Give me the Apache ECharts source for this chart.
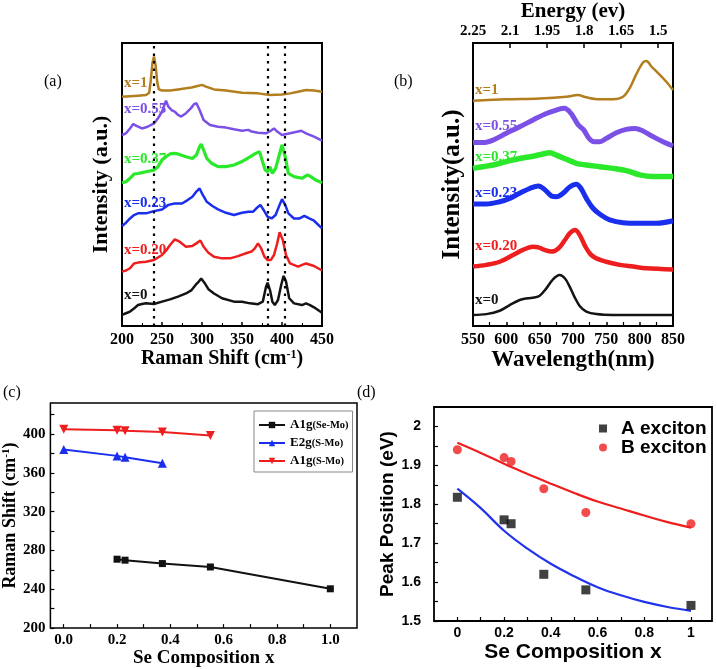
<!DOCTYPE html>
<html><head><meta charset="utf-8">
<script src="https://cdn.jsdelivr.net/npm/echarts@6/dist/echarts.min.js"></script>
<style>html,body{margin:0;padding:0;background:#fff}#c{width:717px;height:669px}</style>
</head><body><div id="c"></div>
<script>
// ---------- (a) Raman spectra (x: Raman shift cm-1, y: intensity a.u.) ----------
const ramanLabels = ['x=0', 'x=0.20', 'x=0.23', 'x=0.37', 'x=0.55', 'x=1'];
const ramanLabelLevels = [10.9, 26.9, 43.5, 59.0, 76.7, 85.9];
const ramanGuides = [240, 382, 403];
const raman_x0 = [[200,3.9],[205,4.5],[210,5.1],[215,6.2],[220,7.4],[225,7.8],[230,8.0],[240,7.8],[250,8.6],[260,9.4],[270,10.4],[280,11.5],[287,12.7],[292,14.5],[296,15.7],[299,16.8],[303,15.3],[308,13.0],[315,11.5],[325,9.8],[340,8.6],[350,8.6],[360,8.0],[370,7.7],[376,8.6],[380,13.9],[382,15.3],[385,12.7],[388,8.6],[391,7.4],[395,9.2],[399,14.5],[402,17.7],[405,15.7],[409,9.8],[415,8.0],[425,7.4],[430,8.0],[435,7.4],[440,6.6],[450,4.7]];
const raman_x020 = [[200,19.2],[205,19.6],[210,20.4],[215,22.1],[220,22.4],[230,22.7],[240,23.3],[250,25.1],[255,26.6],[260,28.6],[266,30.6],[272,29.8],[280,28.0],[288,28.3],[293,29.2],[298,30.2],[302,28.0],[308,25.9],[315,24.5],[325,23.9],[335,23.9],[345,24.7],[355,25.7],[362,26.3],[366,27.4],[370,29.2],[374,27.4],[378,24.5],[382,23.3],[386,23.3],[390,25.1],[394,29.2],[397,33.1],[401,30.4],[405,25.1],[410,22.1],[420,21.0],[430,22.1],[440,21.2],[450,19.6]];
const raman_x023 = [[200,35.3],[205,36.5],[210,38.0],[215,39.2],[220,39.8],[230,39.8],[240,40.6],[250,41.2],[258,42.8],[266,43.3],[275,43.3],[282,44.5],[288,45.7],[293,47.5],[297,48.6],[301,46.3],[306,43.9],[313,42.4],[320,41.2],[330,40.0],[340,39.2],[350,40.0],[358,40.4],[364,40.4],[368,41.6],[373,42.8],[377,41.0],[382,38.6],[387,38.0],[392,39.2],[397,42.8],[400,44.8],[404,42.8],[408,39.8],[415,38.0],[422,38.0],[428,38.9],[434,38.0],[440,37.2],[450,34.5]];
const raman_x037 = [[200,50.6],[205,51.0],[210,52.2],[215,53.7],[220,53.9],[225,54.2],[230,54.5],[240,55.1],[245,56.3],[250,58.7],[255,59.8],[260,60.8],[265,61.0],[270,60.8],[280,59.8],[288,59.2],[293,60.4],[297,63.4],[299,64.3],[302,62.2],[306,59.2],[312,57.5],[320,56.3],[330,56.3],[340,56.9],[350,58.1],[360,59.8],[367,61.0],[372,61.6],[375,58.7],[379,55.1],[382,54.5],[385,56.3],[388,53.9],[392,55.7],[396,59.8],[400,64.0],[404,59.8],[408,53.9],[415,52.8],[425,52.2],[432,53.4],[436,52.8],[442,51.6],[450,50.6]];
const raman_x055 = [[200,67.5],[205,68.1],[210,69.8],[214,71.4],[218,70.7],[225,69.8],[232,70.4],[240,71.6],[245,73.4],[250,75.7],[253,78.1],[255,79.6],[258,77.5],[262,76.3],[266,75.7],[270,74.6],[274,74.0],[280,75.2],[286,76.9],[290,78.4],[293,78.7],[297,76.3],[302,72.8],[310,71.0],[320,70.4],[330,70.1],[340,69.5],[350,69.0],[358,69.3],[362,68.7],[370,68.3],[380,68.1],[386,69.0],[390,69.8],[394,68.7],[400,67.5],[410,68.1],[420,68.7],[424,69.0],[430,68.1],[440,66.9],[450,65.5]];
const raman_x1 = [[200,81.0],[220,81.4],[230,81.6],[234,82.4],[236,86.9],[238,92.8],[240,95.2],[242,92.2],[244,86.3],[246,83.6],[250,83.2],[260,83.2],[270,83.6],[280,84.0],[287,84.3],[292,84.6],[300,85.2],[305,84.6],[315,83.6],[330,83.2],[350,82.4],[370,82.2],[385,81.6],[400,81.8],[410,82.2],[420,82.8],[430,83.4],[440,83.2],[450,82.8]];

// ---------- (b) PL spectra (x: wavelength nm, y: intensity a.u.) ----------
const plLabels = ['x=0', 'x=0.20', 'x=0.23', 'x=0.37', 'x=0.55', 'x=1'];
const plLabelLevels = [9.2, 28.3, 47.0, 59.7, 70.7, 83.4];
const energyTicks = [2.25, 2.1, 1.95, 1.8, 1.65, 1.5];
const pl_x0 = [[550,3.9],[570,4.2],[590,5.4],[605,7.4],[620,9.2],[632,9.8],[642,10.1],[650,10.7],[660,13.3],[670,16.5],[680,18.0],[688,16.8],[695,13.9],[702,10.4],[710,7.1],[720,5.1],[735,4.2],[760,3.9],[850,3.9]];
const pl_x020 = [[550,21.0],[570,21.6],[590,22.7],[610,25.1],[625,26.9],[640,28.0],[648,27.8],[655,27.1],[668,26.3],[678,27.4],[688,30.4],[695,32.7],[703,33.9],[710,32.2],[718,28.3],[726,25.4],[735,23.9],[750,22.7],[770,21.6],[790,21.0],[810,20.4],[850,20.0]];
const pl_x023 = [[550,43.1],[570,43.1],[590,43.9],[605,45.1],[620,46.9],[635,48.6],[648,49.5],[658,48.1],[668,45.9],[675,45.7],[685,46.9],[695,49.1],[705,50.1],[712,48.6],[720,45.1],[730,41.6],[742,39.2],[755,37.5],[775,36.5],[800,36.3],[825,36.3],[850,37.2]];
const pl_x037 = [[550,55.7],[565,56.3],[580,56.9],[600,58.1],[620,59.2],[640,60.0],[655,60.8],[665,61.2],[675,60.4],[690,58.9],[705,57.5],[720,56.9],[740,56.3],[760,55.7],[780,54.9],[800,53.4],[820,52.8],[835,52.8],[850,52.8]];
const pl_x055 = [[550,64.8],[565,64.8],[580,65.7],[600,68.1],[620,70.4],[640,72.8],[660,75.1],[675,76.3],[687,76.9],[697,75.1],[708,71.0],[716,69.3],[724,66.3],[732,65.1],[740,65.1],[750,66.3],[765,68.3],[780,69.5],[793,69.8],[805,68.9],[820,66.9],[835,65.1],[850,63.6]];
const pl_x1 = [[550,79.6],[600,80.1],[650,80.4],[690,81.0],[707,81.6],[720,80.8],[740,80.1],[760,80.1],[775,81.0],[785,84.0],[795,89.0],[805,93.1],[810,93.6],[818,91.6],[828,89.3],[840,86.3],[850,83.4]];

// ---------- (c) Raman peak positions ----------
const compSeMo = [0.2, 0.23, 0.37, 0.55, 1.0];
const a1gSeMo = [271, 270, 266.5, 263, 240.5];
const compE2g = [0, 0.2, 0.23, 0.37];
const e2gSMo = [384, 377.5, 376, 370];
const compA1gS = [0, 0.2, 0.23, 0.37, 0.55];
const a1gSMo = [405, 404, 403.5, 402, 398.5];
const cXTicks = [0, 0.2, 0.4, 0.6, 0.8, 1.0];
const cYTicks = [200, 240, 280, 320, 360, 400];

// ---------- (d) exciton peak positions ----------
const compD = [0, 0.2, 0.23, 0.37, 0.55, 1];
const aExciton = [1.818, 1.76, 1.75, 1.62, 1.58, 1.54];
const bExciton = [1.94, 1.92, 1.91, 1.84, 1.779, 1.75];
const fitX = [0, 0.1, 0.2, 0.3, 0.4, 0.5, 0.6, 0.7, 0.8, 0.9, 1.0];
const fitA = [1.840, 1.790, 1.732, 1.686, 1.647, 1.615, 1.587, 1.566, 1.549, 1.536, 1.526];
const fitB = [1.958, 1.932, 1.904, 1.878, 1.853, 1.829, 1.807, 1.789, 1.771, 1.754, 1.740];
const dXTicks = [0, 0.2, 0.4, 0.6, 0.8, 1];
const dYTicks = [1.5, 1.6, 1.7, 1.8, 1.9, 2.0];

// ---------- styling ----------
const SERIF = 'Liberation Serif';
const SANS = 'Liberation Sans';
const curveColors = ['#141414', '#EE1E1E', '#1A2EEE', '#2BE82B', '#7B50E6', '#B27E1E'];
const ramanSets = [raman_x0, raman_x020, raman_x023, raman_x037, raman_x055, raman_x1];
const ramanWidths = [2.5, 2.5, 2.5, 3.2, 2.5, 2.5];
const plSets = [pl_x0, pl_x020, pl_x023, pl_x037, pl_x055, pl_x1];
const plWidths = [2.5, 4.5, 5, 5.5, 5, 2.5];

function zip(xs, ys) { return xs.map((x, i) => [x, ys[i]]); }
function range(a, b, s) { const r = []; for (let v = a; v <= b + 1e-9; v += s) r.push(+v.toFixed(4)); return r; }

const boldSerif = (size) => ({ fontFamily: SERIF, fontWeight: 'bold', fontSize: size, color: '#000' });
const boldSans = (size) => ({ fontFamily: SANS, fontWeight: 'bold', fontSize: size, color: '#000' });
const noLine = { show: false, onZero: false };

const series = [];
ramanSets.forEach((d, i) => {
  const s = {
    type: 'line', xAxisIndex: 0, yAxisIndex: 0, data: d, showSymbol: false, symbol: 'none',
    lineStyle: { color: curveColors[i], width: ramanWidths[i] }, silent: true, z: 3,
    markPoint: {
      symbol: 'circle', symbolSize: 0, silent: true,
      label: { show: true, position: 'right', distance: 2, formatter: ramanLabels[i], ...boldSerif(15), color: curveColors[i] },
      data: [{ coord: [200, ramanLabelLevels[i]] }]
    }
  };
  if (i === 0) {
    s.markLine = { symbol: 'none', silent: true, label: { show: false },
      lineStyle: { color: '#000', width: 2.2, type: [2.5, 5] },
      data: ramanGuides.map(v => ({ xAxis: v })) };
  }
  series.push(s);
});
plSets.forEach((d, i) => {
  series.push({
    type: 'line', xAxisIndex: 1, yAxisIndex: 1, data: d, showSymbol: false, symbol: 'none', smooth: 0.35,
    lineStyle: { color: curveColors[i], width: plWidths[i] }, silent: true,
    markPoint: {
      symbol: 'circle', symbolSize: 0, silent: true,
      label: { show: true, position: 'right', distance: 2, formatter: plLabels[i], ...boldSerif(15), color: curveColors[i] },
      data: [{ coord: [550, plLabelLevels[i]] }]
    }
  });
});
// (c)
series.push({ name: 'A1g(Se-Mo)', type: 'line', xAxisIndex: 3, yAxisIndex: 2, data: zip(compSeMo, a1gSeMo),
  symbol: 'rect', symbolSize: 7, itemStyle: { color: '#111' }, lineStyle: { color: '#111', width: 2 } });
series.push({ name: 'E2g(S-Mo)', type: 'line', xAxisIndex: 3, yAxisIndex: 2, data: zip(compE2g, e2gSMo),
  symbol: 'triangle', symbolSize: 9, itemStyle: { color: '#1A2EEE' }, lineStyle: { color: '#1A2EEE', width: 2 } });
series.push({ name: 'A1g(S-Mo)', type: 'line', xAxisIndex: 3, yAxisIndex: 2, data: zip(compA1gS, a1gSMo),
  symbol: 'path://M0,0 L10,0 L5,9 Z', symbolSize: 9, itemStyle: { color: '#EE1E1E' }, lineStyle: { color: '#EE1E1E', width: 2 } });
// (d)
series.push({ name: 'fitA', type: 'line', xAxisIndex: 4, yAxisIndex: 3, data: zip(fitX, fitA), smooth: 0.4,
  showSymbol: false, symbol: 'none', lineStyle: { color: '#2233EE', width: 2.2 }, silent: true });
series.push({ name: 'fitB', type: 'line', xAxisIndex: 4, yAxisIndex: 3, data: zip(fitX, fitB), smooth: 0.4,
  showSymbol: false, symbol: 'none', lineStyle: { color: '#EE1E1E', width: 2.2 }, silent: true });
series.push({ name: 'A exciton', type: 'scatter', xAxisIndex: 4, yAxisIndex: 3, data: zip(compD, aExciton),
  symbol: 'rect', symbolSize: 9, itemStyle: { color: '#111' }, z: 5 });
series.push({ name: 'B exciton', type: 'scatter', xAxisIndex: 4, yAxisIndex: 3, data: zip(compD, bExciton),
  symbol: 'circle', symbolSize: 9, itemStyle: { color: '#EE1E1E' }, z: 5 });

const supRich = (size) => ({ s: { fontFamily: SERIF, fontWeight: 'bold', fontSize: size, color: '#000', verticalAlign: 'top', lineHeight: size * 1.4 } });

const option = {
  animation: false,
  backgroundColor: '#fff',
  grid: [
    { left: 122, top: 43, width: 200, height: 283, show: true, borderColor: '#000', borderWidth: 2, backgroundColor: 'transparent' },
    { left: 473, top: 43, width: 200, height: 283, show: true, borderColor: '#000', borderWidth: 2, backgroundColor: 'transparent' },
    { left: 50, top: 403, width: 307, height: 229, show: true, borderColor: '#000', borderWidth: 1.5, backgroundColor: 'transparent' },
    { left: 434, top: 407, width: 278, height: 214, show: true, borderColor: '#000', borderWidth: 1.8, backgroundColor: 'transparent' }
  ],
  xAxis: [
    { gridIndex: 0, type: 'value', min: 200, max: 450, interval: 50, axisLine: noLine, splitLine: { show: false },
      axisTick: { inside: true, length: 4, lineStyle: { color: '#000', width: 1.5 } },
      minorTick: { show: true, splitNumber: 2, length: 3, lineStyle: { color: '#000' } },
      axisLabel: { ...boldSerif(16), margin: 6 },
      name: 'Raman Shift (cm{s|-1})', nameLocation: 'middle', nameGap: 13,
      nameTextStyle: { ...boldSerif(20), rich: supRich(12) } },
    { gridIndex: 1, type: 'value', min: 550, max: 850, interval: 50, axisLine: noLine, splitLine: { show: false },
      axisTick: { inside: true, length: 4, lineStyle: { color: '#000', width: 1.5 } },
      minorTick: { show: true, splitNumber: 2, length: 4, lineStyle: { color: '#000', width: 1.2 } },
      axisLabel: { ...boldSerif(16), margin: 6 },
      name: 'Wavelength(nm)', nameLocation: 'middle', nameGap: 12, nameTextStyle: boldSerif(23) },
    { gridIndex: 1, type: 'value', position: 'top', inverse: true, min: 1.44, max: 2.25, axisLine: noLine, splitLine: { show: false },
      axisTick: { inside: true, length: 5, customValues: energyTicks, lineStyle: { color: '#000', width: 1.5 } },
      axisLabel: { ...boldSerif(15), margin: 4, customValues: energyTicks, formatter: v => String(v) },
      name: 'Energy (ev)', nameLocation: 'middle', nameGap: 21, nameTextStyle: boldSerif(21) },
    { gridIndex: 2, type: 'value', min: -0.05, max: 1.1, axisLine: noLine, splitLine: { show: false },
      axisTick: { inside: true, length: 4, customValues: range(0, 1, 0.1), lineStyle: { color: '#000', width: 1.2 } },
      axisLabel: { ...boldSerif(15), margin: 5, customValues: cXTicks, formatter: v => v.toFixed(1) },
      name: 'Se Composition x', nameLocation: 'middle', nameGap: 19, nameTextStyle: boldSerif(19) },
    { gridIndex: 3, type: 'value', min: -0.1, max: 1.09, axisLine: noLine, splitLine: { show: false },
      axisTick: { inside: true, length: 4, customValues: range(0, 1, 0.1), lineStyle: { color: '#000', width: 1.2 } },
      axisLabel: { ...boldSans(14), margin: 5, customValues: dXTicks, formatter: v => String(+v.toFixed(2)) },
      name: 'Se Composition x', nameLocation: 'middle', nameGap: 21, nameTextStyle: boldSans(21) }
  ],
  yAxis: [
    { gridIndex: 0, type: 'value', min: 0, max: 100, axisLine: noLine, axisTick: { show: false }, axisLabel: { show: false }, splitLine: { show: false },
      name: 'Intensity (a.u.)', nameLocation: 'middle', nameGap: 10, nameTextStyle: boldSerif(22) },
    { gridIndex: 1, type: 'value', min: 0, max: 100, axisLine: noLine, axisTick: { show: false }, axisLabel: { show: false }, splitLine: { show: false },
      name: 'Intensity(a.u.)', nameLocation: 'middle', nameGap: 8, nameTextStyle: boldSerif(25) },
    { gridIndex: 2, type: 'value', min: 200, max: 432, axisLine: noLine, splitLine: { show: false },
      axisTick: { inside: true, length: 4, customValues: range(200, 420, 20), lineStyle: { color: '#000', width: 1.2 } },
      axisLabel: { ...boldSerif(15), margin: 5, customValues: cYTicks },
      name: 'Raman Shift (cm{s|-1})', nameLocation: 'middle', nameGap: 30,
      nameTextStyle: { ...boldSerif(18), rich: supRich(11) } },
    { gridIndex: 3, type: 'value', min: 1.5, max: 2.05, axisLine: noLine, splitLine: { show: false },
      axisTick: { inside: true, length: 4, customValues: range(1.5, 2.0, 0.05), lineStyle: { color: '#000', width: 1.2 } },
      axisLabel: { ...boldSans(14), margin: 13, customValues: dYTicks, formatter: v => String(+v.toFixed(2)) },
      name: 'Peak Position (eV)', nameLocation: 'middle', nameGap: 31, nameTextStyle: boldSans(19) }
  ],
  legend: [
    { data: ['A1g(Se-Mo)', 'E2g(S-Mo)', 'A1g(S-Mo)'], orient: 'vertical', left: 254, top: 411,
      backgroundColor: '#fff', borderColor: '#888', borderWidth: 1, padding: [5, 4, 2, 4], itemGap: 0,
      itemWidth: 26, itemHeight: 8, selectedMode: false,
      formatter: n => { const k = n.indexOf('('); return '{a|' + n.slice(0, k) + '}{b|' + n.slice(k) + '}'; },
      textStyle: { ...boldSerif(13), lineHeight: 18,
        rich: { a: { ...boldSerif(13), lineHeight: 18 }, b: { ...boldSerif(10.5), lineHeight: 18 } } } },
    { data: ['A exciton', 'B exciton'], orient: 'vertical', left: 599, top: 419, itemGap: 0, padding: 0,
      itemWidth: 8, itemHeight: 8, selectedMode: false,
      textStyle: { ...boldSans(19), lineHeight: 19, padding: [0, 0, 0, 9] } }
  ],
  graphic: [
    { type: 'text', left: 44, top: 74, style: { text: '(a)', font: '16px "Liberation Serif"', fill: '#000' } },
    { type: 'text', left: 394, top: 74, style: { text: '(b)', font: '16px "Liberation Serif"', fill: '#000' } },
    { type: 'text', left: 3, top: 385, style: { text: '(c)', font: '16px "Liberation Serif"', fill: '#000' } },
    { type: 'text', left: 357, top: 385, style: { text: '(d)', font: '16px "Liberation Serif"', fill: '#000' } }
  ],
  series: series
};

const chart = echarts.init(document.getElementById('c'), null, { renderer: 'canvas', width: 717, height: 669 });
chart.setOption(option);
</script>
</body></html>
